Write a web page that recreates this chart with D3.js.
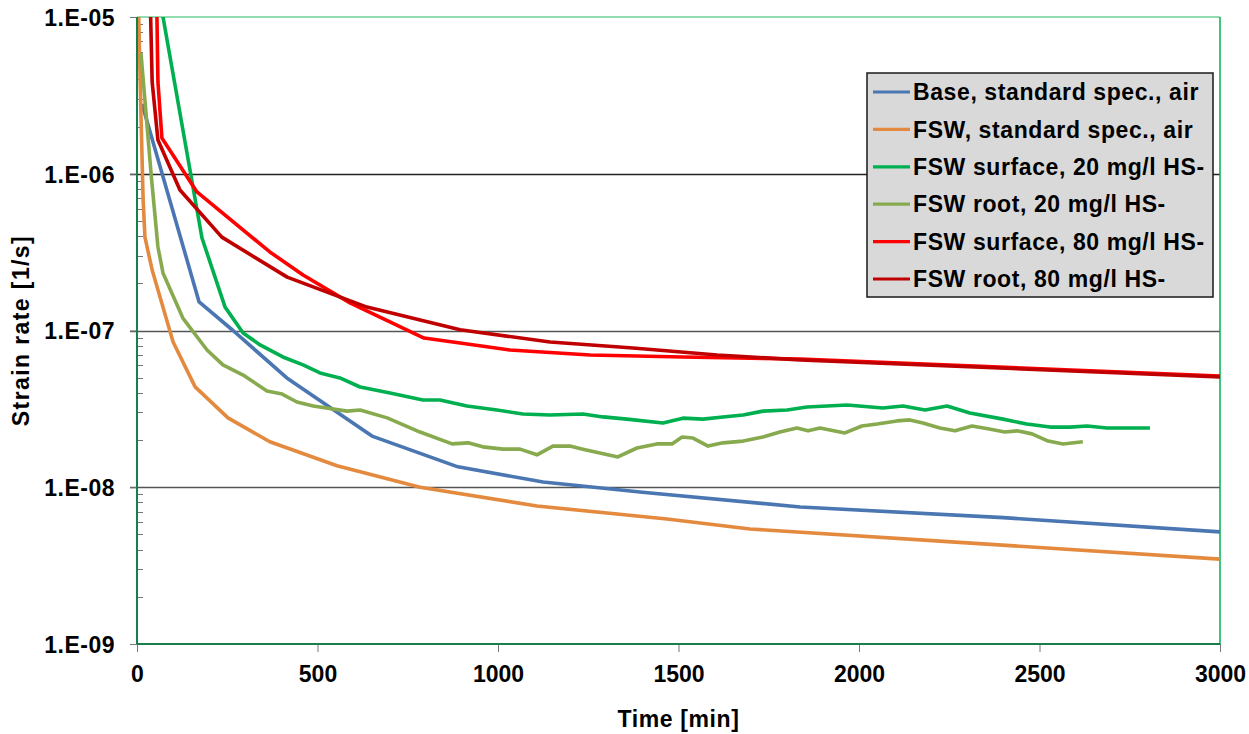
<!DOCTYPE html>
<html>
<head>
<meta charset="utf-8">
<script src="https://cdn.jsdelivr.net/npm/d3@7"></script>
<style>
  body { margin: 0; background: #fff; }
  text { font-family: Arial, 'Liberation Sans', sans-serif; font-weight: bold; fill: #000; }
</style>
</head>
<body>
<svg id="chart" width="1249" height="734"></svg>
<script>
'use strict';
// [time in min, strain rate in 1/s]
const baseAir = [
  [14, 2.79e-6], [172, 1.52e-7], [266, 1.0e-7], [415, 4.98e-8], [651, 2.12e-8],
  [889, 1.35e-8], [1125, 1.08e-8], [1400, 9.3e-9], [1837, 7.48e-9],
  [2400, 6.4e-9], [3000, 5.19e-9],
];
const fswAir = [
  [0, 3e-5], [11, 2.37e-6], [17, 6.8e-7], [22, 3.94e-7], [42, 2.43e-7],
  [100, 8.45e-8], [161, 4.37e-8], [252, 2.77e-8], [368, 1.95e-8],
  [554, 1.37e-8], [784, 1.0e-8], [1108, 7.59e-9], [1468, 6.27e-9],
  [1698, 5.42e-9], [2300, 4.42e-9], [3000, 3.48e-9],
];
const fswSurface20 = [
  [49, 2e-5], [180, 3.89e-7], [244, 1.41e-7], [294, 9.64e-8], [341, 8.09e-8],
  [404, 6.78e-8], [460, 6.03e-8], [507, 5.36e-8], [562, 4.98e-8],
  [618, 4.36e-8], [701, 3.99e-8], [792, 3.6e-8], [839, 3.6e-8],
  [914, 3.3e-8], [997, 3.11e-8], [1069, 2.93e-8], [1144, 2.89e-8],
  [1235, 2.93e-8], [1291, 2.81e-8], [1357, 2.72e-8], [1457, 2.57e-8],
  [1512, 2.76e-8], [1568, 2.72e-8], [1623, 2.81e-8], [1679, 2.89e-8],
  [1734, 3.06e-8], [1801, 3.11e-8], [1856, 3.25e-8], [1967, 3.35e-8],
  [2066, 3.2e-8], [2122, 3.3e-8], [2183, 3.11e-8], [2244, 3.3e-8],
  [2307, 2.98e-8], [2399, 2.72e-8], [2465, 2.53e-8], [2529, 2.42e-8],
  [2584, 2.42e-8], [2632, 2.46e-8], [2687, 2.39e-8], [2806, 2.39e-8],
];
const fswRoot20 = [
  [11, 5.89e-6], [39, 1.0e-6], [58, 3.41e-7], [72, 2.33e-7], [127, 1.2e-7],
  [194, 7.51e-8], [238, 6.03e-8], [294, 5.2e-8], [360, 4.11e-8],
  [402, 3.93e-8], [443, 3.5e-8], [488, 3.3e-8], [582, 3.06e-8],
  [618, 3.11e-8], [693, 2.77e-8], [784, 2.25e-8], [873, 1.89e-8],
  [917, 1.92e-8], [958, 1.81e-8], [1014, 1.75e-8], [1061, 1.75e-8],
  [1108, 1.61e-8], [1152, 1.83e-8], [1199, 1.83e-8], [1235, 1.75e-8],
  [1332, 1.56e-8], [1385, 1.78e-8], [1440, 1.89e-8], [1482, 1.89e-8],
  [1510, 2.09e-8], [1540, 2.06e-8], [1582, 1.83e-8], [1623, 1.92e-8],
  [1679, 1.97e-8], [1734, 2.09e-8], [1781, 2.25e-8], [1828, 2.39e-8],
  [1859, 2.29e-8], [1892, 2.39e-8], [1961, 2.22e-8], [2008, 2.46e-8],
  [2050, 2.53e-8], [2105, 2.65e-8], [2141, 2.69e-8], [2177, 2.57e-8],
  [2224, 2.39e-8], [2266, 2.29e-8], [2313, 2.46e-8], [2357, 2.36e-8],
  [2404, 2.25e-8], [2438, 2.29e-8], [2479, 2.19e-8], [2524, 1.97e-8],
  [2565, 1.89e-8], [2620, 1.95e-8],
];
const fswSurface80 = [
  [52, 3e-5], [58, 3.85e-6], [69, 1.69e-6], [166, 7.66e-7], [368, 3.17e-7],
  [460, 2.26e-7], [590, 1.5e-7], [795, 8.95e-8], [895, 8.32e-8],
  [1033, 7.51e-8], [1255, 6.98e-8], [1512, 6.78e-8], [1837, 6.58e-8],
  [3000, 5.13e-8],
];
const fswRoot80 = [
  [33, 3e-5], [42, 3.85e-6], [58, 1.64e-6], [119, 7.87e-7], [235, 3.94e-7],
  [416, 2.19e-7], [637, 1.41e-7], [895, 1.01e-7], [1144, 8.45e-8],
  [1374, 7.73e-8], [1607, 6.98e-8], [1837, 6.49e-8], [3000, 5.05e-8],
];

const SERIES_NAMES = [
  'Base, standard spec., air',
  'FSW, standard spec., air',
  'FSW surface, 20 mg/l HS-',
  'FSW root, 20 mg/l HS-',
  'FSW surface, 80 mg/l HS-',
  'FSW root, 80 mg/l HS-',
];
const SERIES_DATA = [baseAir, fswAir, fswSurface20, fswRoot20, fswSurface80, fswRoot80];
const COLORS = ['#4a76b2', '#e38a3e', '#00b050', '#88aa4e', '#ff0000', '#c00000'];

const X_TICKS = [0, 500, 1000, 1500, 2000, 2500, 3000];
const Y_TICKS = [1e-9, 1e-8, 1e-7, 1e-6, 1e-5];
const Y_TICK_LABELS = ['1.E-09', '1.E-08', '1.E-07', '1.E-06', '1.E-05'];

let svg = d3.select('#chart');
let margin = { top: 17, right: 29, bottom: 90, left: 137 },
  width = 1249 - margin.left - margin.right,
  height = 734 - margin.top - margin.bottom;

let x = d3.scaleLinear().domain([0, 3000]).range([margin.left, margin.left + width]);
let y = d3.scaleLog().domain([1e-9, 1e-5]).range([margin.top + height, margin.top]);

// minor ticks (inside)
let minor = [];
for (let e = -9; e < -5; e++) {
  for (let m = 2; m <= 9; m++) minor.push(m * Math.pow(10, e));
}
svg
  .append('g')
  .selectAll('line')
  .data(minor)
  .enter()
  .append('line')
  .attr('x1', x(0))
  .attr('x2', x(0) + 6)
  .attr('y1', (d) => Math.round(y(d)) + 0.5)
  .attr('y2', (d) => Math.round(y(d)) + 0.5)
  .attr('stroke', '#777')
  .attr('stroke-width', 1);

// gridlines
svg
  .append('g')
  .selectAll('line')
  .data(Y_TICKS.slice(1, 4))
  .enter()
  .append('line')
  .attr('x1', x(0) - 7)
  .attr('x2', x(3000))
  .attr('y1', (d) => Math.round(y(d)) + 0.5)
  .attr('y2', (d) => Math.round(y(d)) + 0.5)
  .attr('stroke', (d, i) => (i === 2 ? '#222' : '#555'))
  .attr('stroke-width', 1.3);

// y axis
let yAxis = svg
  .append('g')
  .attr('transform', `translate(${x(0)},0)`)
  .call(d3.axisLeft(y).tickValues(Y_TICKS).tickSize(7).tickFormat((d, i) => Y_TICK_LABELS[i]));
yAxis.select('.domain').remove();
yAxis.selectAll('.tick line').attr('stroke', '#777');
yAxis
  .selectAll('.tick text')
  .attr('x', -22)
  .attr('dy', '0.36em')
  .style('font-size', '23px')
  .style('letter-spacing', '0.5px')
  .style('font-family', 'Arial, Liberation Sans, sans-serif');

// x axis
let xAxis = svg
  .append('g')
  .attr('transform', `translate(0,${y(1e-9)})`)
  .call(d3.axisBottom(x).tickValues(X_TICKS).tickSize(8).tickFormat(d3.format('d')));
xAxis.select('.domain').remove();
xAxis.selectAll('.tick line').attr('stroke', '#777');
xAxis
  .selectAll('.tick text')
  .attr('y', 21)
  .attr('dy', '0.72em')
  .style('font-size', '23px')
  .style('font-family', 'Arial, Liberation Sans, sans-serif');

// plot border
svg
  .append('line')
  .attr('x1', x(0)).attr('x2', x(3000))
  .attr('y1', y(1e-5)).attr('y2', y(1e-5))
  .attr('stroke', '#6fcf96').attr('stroke-width', 1.5);
svg
  .append('line')
  .attr('x1', x(3000)).attr('x2', x(3000))
  .attr('y1', y(1e-5)).attr('y2', y(1e-9))
  .attr('stroke', '#00b050').attr('stroke-width', 1.5);

// series
svg
  .append('clipPath')
  .attr('id', 'plotClip')
  .append('rect')
  .attr('x', x(0))
  .attr('y', y(1e-5))
  .attr('width', width)
  .attr('height', height);

let line = d3
  .line()
  .x((d) => x(d[0]))
  .y((d) => y(d[1]));

svg
  .append('g')
  .attr('clip-path', 'url(#plotClip)')
  .selectAll('path')
  .data(SERIES_DATA)
  .enter()
  .append('path')
  .attr('fill', 'none')
  .attr('stroke', (d, i) => COLORS[i])
  .attr('stroke-width', 3.6)
  .attr('stroke-linejoin', 'round')
  .attr('d', line);

svg
  .append('line')
  .attr('x1', x(0)).attr('x2', x(0))
  .attr('y1', y(1e-5)).attr('y2', y(1e-9))
  .attr('stroke', '#17804a').attr('stroke-width', 2);
svg
  .append('line')
  .attr('x1', x(0)).attr('x2', x(3000))
  .attr('y1', y(1e-9)).attr('y2', y(1e-9))
  .attr('stroke', '#17804a').attr('stroke-width', 2);

// axis titles
svg
  .append('text')
  .attr('x', (x(0) + x(3000)) / 2)
  .attr('y', 727)
  .attr('text-anchor', 'middle')
  .style('font-size', '23px')
  .style('letter-spacing', '0.6px')
  .text('Time [min]');
svg
  .append('text')
  .attr('transform', `translate(29,${(y(1e-5) + y(1e-9)) / 2}) rotate(-90)`)
  .attr('text-anchor', 'middle')
  .style('font-size', '23px')
  .style('letter-spacing', '1.4px')
  .text('Strain rate [1/s]');

// legend
let legend = svg.append('g').attr('transform', 'translate(867,73)');
legend
  .append('rect')
  .attr('width', 346)
  .attr('height', 224)
  .attr('fill', '#d9d9d9')
  .attr('stroke', '#1a1a1a')
  .attr('stroke-width', 1.5);
let item = legend
  .selectAll('.item')
  .data(SERIES_NAMES)
  .enter()
  .append('g')
  .attr('transform', (d, i) => `translate(0,${19 + i * 37.4})`);
item
  .append('line')
  .attr('x1', 6)
  .attr('x2', 43)
  .attr('stroke', (d, i) => COLORS[i])
  .attr('stroke-width', 3.2);
item
  .append('text')
  .attr('x', 46)
  .attr('dy', '0.36em')
  .style('font-size', '23px')
  .style('letter-spacing', '0.6px')
  .text((d) => d);
</script>
</body>
</html>
